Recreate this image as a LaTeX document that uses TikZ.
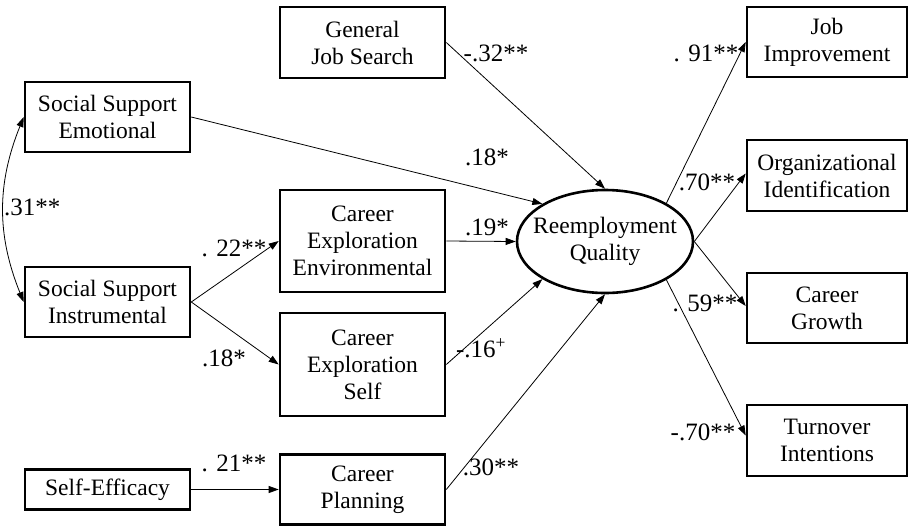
\documentclass[tikz,border=0pt]{standalone}
\usepackage{fontspec}
\setmainfont{Liberation Serif}
\usetikzlibrary{arrows.meta,shapes.geometric}
\begin{document}
\begin{tikzpicture}[x=1pt,y=-1pt,
  box/.style={draw, line width=2.6pt, rectangle, minimum width=165pt, align=center, inner sep=0pt,
    font=\fontsize{23.5}{27}\selectfont},
  rbox/.style={box, minimum width=160pt},
  lat/.style={draw, line width=2.6pt, ellipse, minimum width=176pt, minimum height=103pt, align=center,
    inner xsep=-10pt, inner ysep=0pt, font=\fontsize{23.5}{27}\selectfont},
  conn/.style={line width=0.8pt, -{Triangle[length=10pt,width=7pt]}},
  coef/.style={inner sep=0pt, font=\fontsize{25}{27}\selectfont}
]
\useasboundingbox (0,0) rectangle (909,525);
% nodes
\node[box, minimum height=70pt] (emo) at (107.5,117) {Social Support\\Emotional};
\node[box, minimum height=70pt] (ins) at (107.5,302) {Social Support\\Instrumental};
\node[box, minimum height=40pt] (eff) at (107.5,489.5) {Self-Efficacy};
\node[box, minimum height=71pt] (gjs) at (362.5,42.5) {General\\Job Search};
\node[box, minimum height=102pt] (env) at (362.5,241) {Career\\Exploration\\Environmental};
\node[box, minimum height=103pt] (self) at (362.5,364.5) {Career\\Exploration\\Self};
\node[box, minimum height=70pt] (plan) at (362.5,489.5) {Career\\Planning};
\node[lat] (rq) at (605,241.5) {Reemployment\\Quality};
\node[rbox, minimum height=70pt] (job) at (827,42) {Job\\Improvement};
\node[rbox, minimum height=71pt] (org) at (827,175.5) {Organizational\\Identification};
\node[rbox, minimum height=70pt] (grow) at (827,308) {Career\\Growth};
\node[rbox, minimum height=71pt] (turn) at (827,440.5) {Turnover\\Intentions};
% connectors
\draw[line width=0.8pt, {Triangle[length=10pt,width=7pt]}-{Triangle[length=10pt,width=7pt]}] (emo.west) to[bend right=22] (ins.west);
\draw[conn] (emo.east) -- (rq.149);
\draw[conn] (gjs.east) -- (rq.north);
\draw[conn] (env.east) -- (rq.west);
\draw[conn] (self.east) -- (rq.211);
\draw[conn] (plan.east) -- (rq.south);
\draw[conn] (ins.east) -- (env.west);
\draw[conn] (ins.east) -- (self.west);
\draw[conn] (eff.east) -- (plan.west);
\draw[conn] (rq.32) -- (job.west);
\draw[conn] (rq.east) -- ([yshift=2pt]org.west);
\draw[conn] (rq.east) -- ([yshift=2pt]grow.west);
\draw[conn] (rq.-32) -- ([yshift=5pt]turn.west);
% coefficients
\node[coef, anchor=west] (l31) at (4,207) {.31**};
\node[coef] (l18a) at (487,157) {.18*};
\node[coef] (l32) at (496,53) {-.32**};
\node[coef] (l19) at (487,227) {.19*};
\node[coef] (l22) at (234,248) {. 22**};
\node[coef] (l18b) at (224,358) {.18*};
\node[coef] (l16) at (481,348) {-.16\textsuperscript{+}};
\node[coef] (l21) at (234,463) {. 21**};
\node[coef] (l30) at (491,467) {.30**};
\node[coef] (l91) at (706,53) {. 91**};
\node[coef] (l70a) at (707,182) {.70**};
\node[coef] (l59) at (705,303) {. 59**};
\node[coef] (l70b) at (703,432) {-.70**};
\end{tikzpicture}
\end{document}
